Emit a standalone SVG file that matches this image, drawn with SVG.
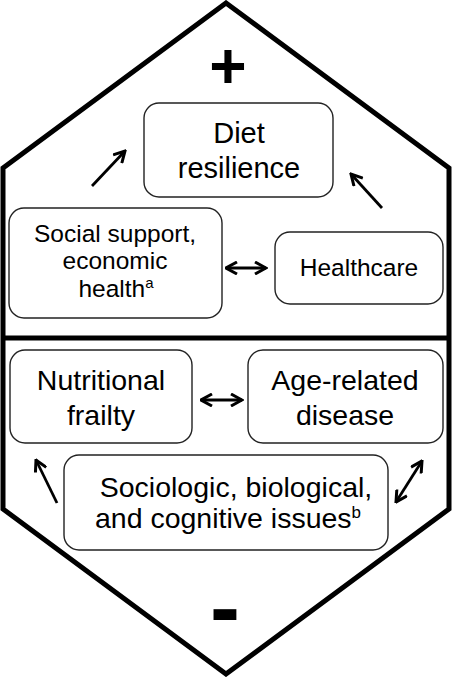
<svg xmlns="http://www.w3.org/2000/svg" width="452" height="677" viewBox="0 0 452 677">
<style>
.box{fill:#fff;stroke:#222;stroke-width:1.4}
.t{font-family:"Liberation Sans",Arial,sans-serif;fill:#000;text-anchor:middle}
.a{stroke:#000;stroke-width:2.8;fill:none}
.d{stroke:#000;stroke-width:3;fill:none}
</style>
<defs>
<marker id="h" viewBox="0 0 14 14" refX="12.5" refY="7" markerWidth="14" markerHeight="14" markerUnits="userSpaceOnUse" orient="auto-start-reverse">
<path d="M1.5,1 L12.5,7 L1.5,13" fill="none" stroke="#000" stroke-width="3"/>
</marker>
</defs>
<rect width="452" height="677" fill="#fff"/>
<g id="outline">
<polygon points="226,3 3,168 3,509 226,674 449,509 449,168" fill="none" stroke="#000" stroke-width="5" stroke-linejoin="miter"/>
<line x1="3" y1="338" x2="449" y2="338" stroke="#000" stroke-width="5"/>
<text class="t" x="228" y="88" font-size="64" font-weight="bold">+</text>
<text class="t" x="225" y="638" font-size="90" font-weight="bold">-</text>
</g>
<g id="diet">
<rect class="box" x="144" y="103" width="189" height="94" rx="15"/>
<text class="t" x="239" y="143" font-size="29">Diet</text>
<text class="t" x="239" y="178" font-size="29">resilience</text>
</g>
<g id="social">
<rect class="box" x="9" y="208" width="213" height="110" rx="15"/>
<text class="t" x="115" y="242" font-size="24.5">Social support,</text>
<text class="t" x="115" y="269" font-size="24.5">economic</text>
<text class="t" x="116" y="297" font-size="24.5">health<tspan font-size="15" dy="-9">a</tspan></text>
</g>
<g id="healthcare">
<rect class="box" x="275" y="232" width="168" height="72" rx="15"/>
<text class="t" x="359" y="276" font-size="24.5">Healthcare</text>
</g>
<g id="nutritional">
<rect class="box" x="10" y="350" width="182" height="93" rx="15"/>
<text class="t" x="101" y="390" font-size="28.5">Nutritional</text>
<text class="t" x="101" y="425" font-size="28.5">frailty</text>
</g>
<g id="agerelated">
<rect class="box" x="248" y="350" width="195" height="93" rx="15"/>
<text class="t" x="345" y="390" font-size="28.5">Age-related</text>
<text class="t" x="345" y="425" font-size="28.5">disease</text>
</g>
<g id="sociologic">
<rect class="box" x="64" y="455" width="324" height="95" rx="15"/>
<text class="t" x="236" y="497" font-size="28.5">Sociologic, biological,</text>
<text class="t" x="228" y="528" font-size="28.5">and cognitive issues<tspan font-size="17" dy="-10">b</tspan></text>
</g>
<g id="connectors">
<line class="a" x1="92" y1="186" x2="125" y2="151" marker-end="url(#h)"/>
<line class="a" x1="382" y1="208" x2="351" y2="174" marker-end="url(#h)"/>
<line class="d" x1="226" y1="268" x2="266" y2="268" marker-start="url(#h)" marker-end="url(#h)"/>
<line class="d" x1="201" y1="400" x2="242" y2="400" marker-start="url(#h)" marker-end="url(#h)"/>
<line class="a" x1="57" y1="503" x2="36" y2="460" marker-end="url(#h)"/>
<line class="a" x1="396" y1="502" x2="422" y2="461" marker-start="url(#h)" marker-end="url(#h)"/>
</g>
</svg>
